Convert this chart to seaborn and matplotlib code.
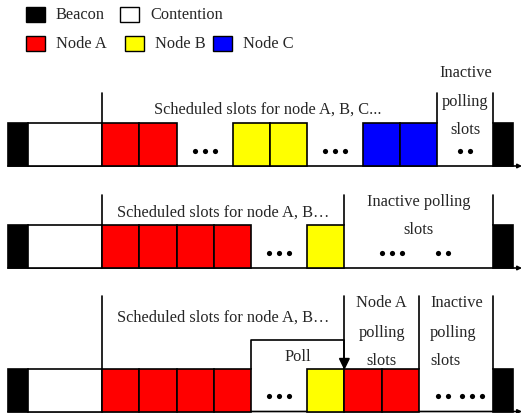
import numpy as np
import matplotlib
matplotlib.use("Agg")
from matplotlib import pyplot as plt
from matplotlib.patches import Rectangle, Polygon
import seaborn as sns

# slot sequence of each superframe (gap = skipped slots, idle = inactive polling slots)
row1_kinds = ["Beacon", "Contention", "Node A", "Node A", "gap", "Node B", "Node B",
              "gap", "Node C", "Node C", "idle", "Beacon"]
row2_kinds = ["Beacon", "Contention", "Node A", "Node A", "Node A", "Node A", "gap",
              "Node B", "idle", "Beacon"]
row3_kinds = ["Beacon", "Contention", "Node A", "Node A", "Node A", "Node A", "gap",
              "Node B", "Node A", "Node A", "idle", "Beacon"]
# lengths in slot units
kind_len = {"Beacon": 0.53, "Contention": 2.0, "Node A": 1.0, "Node B": 1.0,
            "Node C": 1.0, "gap": 1.5}
idle_len = [1.5, 4.0, 2.0]

legend_row1 = ["Beacon", "Contention"]
legend_row2 = ["Node A", "Node B", "Node C"]
colors = {"Beacon": "black", "Contention": "white", "Node A": "#ff0000",
          "Node B": "#ffff00", "Node C": "#0000ff"}

sns.set_style("white")
plt.rcParams["font.family"] = ["Liberation Serif", "DejaVu Serif"]
FS = 11.8

fig = plt.figure(figsize=(5.22, 4.14), dpi=100)
ax = fig.add_axes([0, 0, 1, 1])
x0, unit = 8, 37.25
ax.set_xlim(-x0 / unit, (522 - x0) / unit)
ax.set_ylim(414, 0)
ax.axis("off")

bases = [167, 269, 412.5]
box_h = 43
tops = [94, 196, 297]
rows = [row1_kinds, row2_kinds, row3_kinds]
edges_all = []
for r, kinds in enumerate(rows):
    widths = [idle_len[r] if k == "idle" else kind_len[k] for k in kinds]
    lefts = np.concatenate([[0], np.cumsum(widths)[:-1]])
    edges_all.append((lefts, widths))
    base = bases[r]
    for k, l, w in zip(kinds, lefts, widths):
        if k in colors:
            ax.barh(base - box_h / 2, w, left=l, height=box_h, color=colors[k],
                    edgecolor="black", linewidth=1.2, zorder=3)
    # time axis
    ax.annotate("", xy=(ax.get_xlim()[1], base), xytext=(0, base),
                arrowprops=dict(arrowstyle="-|>", lw=1.2, color="black",
                                mutation_scale=6, shrinkA=0, shrinkB=0), zorder=2)

def vline(x, y1, y2):
    ax.plot([x, x], [y1, y2], color="black", lw=1.2, zorder=4)

def dots(xc, y, n):
    xs = xc + (np.arange(n) - (n - 1) / 2) * 0.27
    ax.scatter(xs, [y] * n, s=14, color="black", zorder=5, linewidths=0)

# row 1
l, w = edges_all[0]
b, t = bases[0], tops[0]
for i in [2, 10, 11]:
    vline(l[i], t, b - box_h)
ax.text((l[2] + l[10]) / 2 - 0.05, 114, "Scheduled slots for node A, B, C...",
        ha="center", va="baseline", fontsize=FS)
xc = l[10] + w[10] / 2
for yy, s in zip([77, 106, 134], ["Inactive", "polling", "slots"]):
    ax.text(xc, yy, s, ha="center", va="baseline", fontsize=FS)
dots(l[4] + w[4] / 2, b - 15, 3)
dots(l[7] + w[7] / 2, b - 15, 3)
dots(xc, b - 15, 2)

# row 2
l, w = edges_all[1]
b, t = bases[1], tops[1]
for i in [2, 8, 9]:
    vline(l[i], t, b - box_h)
ax.text((l[2] + l[8]) / 2, 217, "Scheduled slots for node A, B…",
        ha="center", va="baseline", fontsize=FS)
xc = l[8] + w[8] / 2
ax.text(xc, 206, "Inactive polling", ha="center", va="baseline", fontsize=FS)
ax.text(xc, 234, "slots", ha="center", va="baseline", fontsize=FS)
dots(l[6] + w[6] / 2, b - 15, 3)
dots(l[8] + 1.27, b - 15, 3)
dots(l[8] + 2.65, b - 15, 2)

# row 3
l, w = edges_all[2]
b, t = bases[2], tops[2]
for i in [2, 8, 10, 11]:
    vline(l[i], t, b - box_h)
ax.text((l[2] + l[8]) / 2, 322, "Scheduled slots for node A, B…",
        ha="center", va="baseline", fontsize=FS)
poll_y = 341
ax.plot([l[6], l[6], l[8], l[8]], [b - box_h, poll_y, poll_y, b - box_h - 9],
        color="black", lw=1.2, zorder=4)
ax.add_patch(Polygon([[l[8] - 0.13, b - box_h - 10], [l[8] + 0.13, b - box_h - 10],
                      [l[8], b - box_h]], closed=True, color="black", zorder=5))
ax.text((l[6] + l[8]) / 2, 361, "Poll", ha="center", va="baseline", fontsize=FS)
xc = l[8] + w[8]
for yy, s in zip([307, 337, 365], ["Node A", "polling", "slots"]):
    ax.text(xc, yy, s, ha="center", va="baseline", fontsize=FS)
for yy, s in zip([307, 337, 365], ["Inactive", "polling", "slots"]):
    ax.text(l[10] + 0.3, yy, s, ha="left", va="baseline", fontsize=FS)
dots(l[6] + w[6] / 2, b - 15, 3)
dots(l[10] + 0.65, b - 15, 2)
dots(l[10] + 1.42, b - 15, 3)

# legend
def legend_item(xp, yp, name):
    u = (xp - x0) / unit
    ax.add_patch(Rectangle((u, yp), 19 / unit, 15, facecolor=colors[name],
                           edgecolor="black", lw=1.0, zorder=5))
    ax.text(u + 30 / unit, yp + 11, name, ha="left", va="baseline", fontsize=FS)

for xp, name in zip([26, 120], legend_row1):
    legend_item(xp, 8, name)
for xp, name in zip([26, 125, 213], legend_row2):
    legend_item(xp, 37, name)

fig.savefig("out.png", dpi=100)
